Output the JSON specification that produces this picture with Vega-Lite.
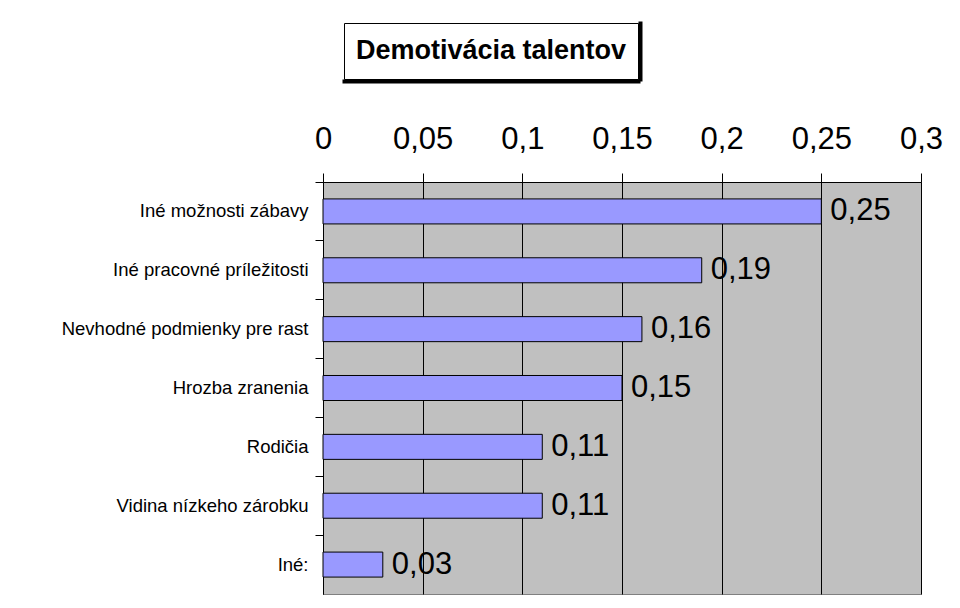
{
  "$schema": "https://vega.github.io/schema/vega-lite/v6.json",
  "padding": {"left": 60, "top": 22, "right": 5, "bottom": 5},
  "autosize": {"type": "pad"},
  "background": "white",
  "config": {
    "locale": {"number": {"decimal": ",", "thousands": " ", "grouping": [3], "currency": ["", ""]}},
    "font": "Liberation Sans"
  },
  "spacing": 40,
  "vconcat": [
    {
      "spacing": 10,
      "hconcat": [
        {
          "width": 10,
          "height": 56,
          "view": {"stroke": null, "fill": null},
          "data": {"values": []},
          "mark": {"type": "text"},
          "encoding": {}
        },
        {
          "width": 294,
          "height": 56,
          "view": {"stroke": "black", "fill": "white", "strokeWidth": 1},
          "data": {"values": [{"titulok": "Demotivácia talentov"}]},
          "mark": {"type": "text", "fontSize": 27, "fontWeight": "bold", "font": "Liberation Sans", "color": "black", "baseline": "middle", "align": "center"},
          "encoding": {
            "text": {"field": "titulok", "type": "nominal"},
            "x": {"datum": 0.5, "type": "quantitative", "scale": {"domain": [0, 1]},
              "axis": {"orient": "bottom", "labels": false, "ticks": false, "grid": false, "title": null, "domainColor": "black", "domainWidth": 4, "domainCap": "square", "offset": 2}},
            "y": {"datum": 0.5, "type": "quantitative", "scale": {"domain": [0, 1]},
              "axis": {"orient": "right", "labels": false, "ticks": false, "grid": false, "title": null, "domainColor": "black", "domainWidth": 4, "domainCap": "square", "offset": 2}}
          }
        }
      ]
    },
    {
      "width": 598,
      "height": 412,
      "view": {"stroke": "#808080", "fill": "#C0C0C0"},
      "data": {"values": [
        {"kategoria": "Iné možnosti zábavy", "hodnota": 0.25},
        {"kategoria": "Iné pracovné príležitosti", "hodnota": 0.19},
        {"kategoria": "Nevhodné podmienky pre rast", "hodnota": 0.16},
        {"kategoria": "Hrozba zranenia", "hodnota": 0.15},
        {"kategoria": "Rodičia", "hodnota": 0.11},
        {"kategoria": "Vidina nízkeho zárobku", "hodnota": 0.11},
        {"kategoria": "Iné:", "hodnota": 0.03}
      ]},
      "encoding": {
        "y": {"field": "kategoria", "type": "nominal", "sort": null,
          "scale": {"paddingInner": 0.575, "paddingOuter": 0.2875},
          "axis": {"title": null, "labelFontSize": 18.5, "labelLimit": 0, "labelColor": "black", "labelFont": "Liberation Sans", "tickColor": "black", "tickSize": 8, "bandPosition": -0.676, "domainColor": "black", "labelPadding": 7, "grid": false}}
      },
      "layer": [
        {
          "mark": {"type": "bar", "fill": "#9999FF", "stroke": "black", "strokeWidth": 1},
          "encoding": {
            "x": {"field": "hodnota", "type": "quantitative", "scale": {"domain": [0, 0.3], "nice": false},
              "axis": {"orient": "top", "values": [0, 0.05, 0.1, 0.15, 0.2, 0.25, 0.3], "format": ".2~f", "title": null, "labelFontSize": 31, "labelColor": "black", "labelFont": "Liberation Sans", "tickColor": "black", "tickSize": 9, "labelPadding": 18, "domainColor": "black", "grid": true, "gridColor": "black", "gridOpacity": 1, "gridWidth": 1, "labelFlush": false, "labelOverlap": false}}
          }
        },
        {
          "mark": {"type": "text", "align": "left", "baseline": "middle", "dx": 9, "fontSize": 31, "color": "black", "font": "Liberation Sans"},
          "encoding": {
            "x": {"field": "hodnota", "type": "quantitative"},
            "text": {"field": "hodnota", "type": "quantitative", "format": ".2f"}
          }
        }
      ]
    }
  ]
}
